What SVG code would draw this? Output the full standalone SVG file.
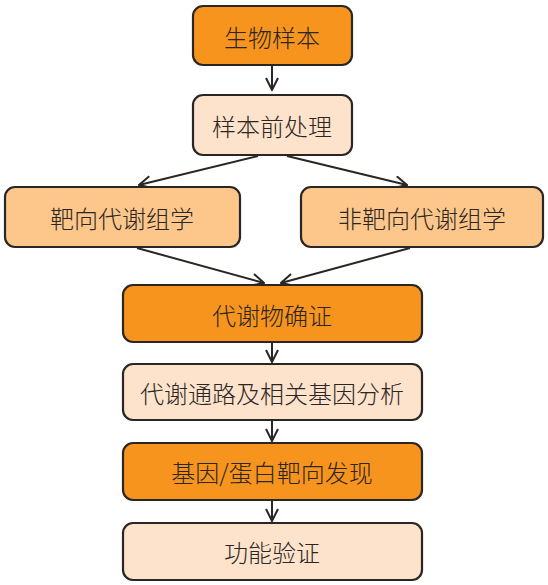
<svg xmlns="http://www.w3.org/2000/svg" width="548" height="585" viewBox="0 0 548 585">
<defs>
<style>
.box{stroke:#2b2623;stroke-width:2.2}
.o{fill:#F7941D}
.m{fill:#FDC68B}
.l{fill:#FDE3CB}
text{font-family:"Noto Sans CJK SC","Noto Sans",sans-serif;font-size:24px;font-weight:300;fill:#2b2623;text-anchor:middle;dominant-baseline:central}
.c{stroke:#2b2623;stroke-width:2;fill:none}
</style>
<marker id="ah" viewBox="0 0 14 14" refX="13" refY="7" markerWidth="14" markerHeight="14" markerUnits="userSpaceOnUse" orient="auto">
<path d="M1,1 L13,7 L1,13" fill="none" stroke="#2b2623" stroke-width="2"/>
</marker>
</defs>
<rect width="548" height="585" fill="#ffffff"/>
<g id="connectors">
<line class="c" x1="272" y1="66" x2="272" y2="90" marker-end="url(#ah)"/>
<line class="c" x1="258" y1="156" x2="139" y2="185" marker-end="url(#ah)"/>
<line class="c" x1="287" y1="156" x2="407" y2="185" marker-end="url(#ah)"/>
<line class="c" x1="137" y1="248" x2="264" y2="283" marker-end="url(#ah)"/>
<line class="c" x1="410" y1="248" x2="281" y2="283" marker-end="url(#ah)"/>
<line class="c" x1="272" y1="343" x2="272" y2="362" marker-end="url(#ah)"/>
<line class="c" x1="272" y1="421" x2="272" y2="441" marker-end="url(#ah)"/>
<line class="c" x1="272" y1="501" x2="272" y2="521" marker-end="url(#ah)"/>
</g>
<g id="n1"><rect class="box o" x="193" y="6" width="159" height="59" rx="10"/><text x="272" y="36">生物样本</text></g>
<g id="n2"><rect class="box l" x="193" y="95" width="159" height="60" rx="10"/><text x="272" y="125">样本前处理</text></g>
<g id="n3"><rect class="box m" x="5" y="187" width="235" height="60" rx="10"/><text x="122" y="217">靶向代谢组学</text></g>
<g id="n4"><rect class="box m" x="301" y="187" width="242" height="60" rx="10"/><text x="422" y="217">非靶向代谢组学</text></g>
<g id="n5"><rect class="box o" x="123" y="285" width="299" height="57" rx="10"/><text x="272" y="314">代谢物确证</text></g>
<g id="n6"><rect class="box l" x="123" y="364" width="299" height="56" rx="10"/><text x="272" y="392">代谢通路及相关基因分析</text></g>
<g id="n7"><rect class="box o" x="123" y="443" width="299" height="57" rx="10"/><text x="272" y="471">基因/蛋白靶向发现</text></g>
<g id="n8"><rect class="box l" x="123" y="523" width="299" height="57" rx="10"/><text x="272" y="551">功能验证</text></g>
</svg>
